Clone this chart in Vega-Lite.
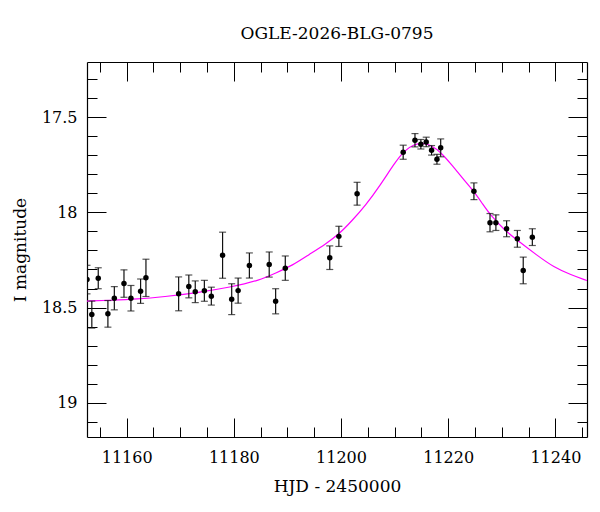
{
  "$schema": "https://vega.github.io/schema/vega-lite/v6.json",
  "width": 500,
  "height": 375,
  "autosize": {"type": "none"},
  "padding": {"left": 87, "top": 62, "right": 13, "bottom": 75},
  "background": "#ffffff",
  "title": {
    "text": "OGLE-2026-BLG-0795",
    "font": "DejaVu Serif",
    "fontSize": 17,
    "fontWeight": "normal",
    "color": "#000000",
    "anchor": "middle",
    "offset": 19
  },
  "datasets": {
    "obs": [
      {"t": 11152.6, "mag": 18.353, "err": 0.075},
      {"t": 11153.5, "mag": 18.537, "err": 0.071},
      {"t": 11154.7, "mag": 18.346, "err": 0.055},
      {"t": 11156.5, "mag": 18.533, "err": 0.07},
      {"t": 11157.7, "mag": 18.451, "err": 0.061},
      {"t": 11159.5, "mag": 18.374, "err": 0.072},
      {"t": 11160.8, "mag": 18.451, "err": 0.067},
      {"t": 11162.6, "mag": 18.414, "err": 0.064},
      {"t": 11163.6, "mag": 18.344, "err": 0.098},
      {"t": 11169.7, "mag": 18.428, "err": 0.089},
      {"t": 11171.6, "mag": 18.389, "err": 0.06},
      {"t": 11172.8, "mag": 18.417, "err": 0.057},
      {"t": 11174.5, "mag": 18.412, "err": 0.055},
      {"t": 11175.8, "mag": 18.44, "err": 0.047},
      {"t": 11177.9, "mag": 18.225, "err": 0.121},
      {"t": 11179.6, "mag": 18.456, "err": 0.081},
      {"t": 11180.8, "mag": 18.411, "err": 0.066},
      {"t": 11182.9, "mag": 18.279, "err": 0.066},
      {"t": 11186.6, "mag": 18.274, "err": 0.066},
      {"t": 11187.8, "mag": 18.467, "err": 0.066},
      {"t": 11189.6, "mag": 18.293, "err": 0.064},
      {"t": 11197.9, "mag": 18.238, "err": 0.062},
      {"t": 11199.6, "mag": 18.126, "err": 0.053},
      {"t": 11203.0, "mag": 17.902, "err": 0.06},
      {"t": 11211.6, "mag": 17.684, "err": 0.037},
      {"t": 11213.8, "mag": 17.621, "err": 0.035},
      {"t": 11214.9, "mag": 17.642, "err": 0.025},
      {"t": 11215.9, "mag": 17.63, "err": 0.025},
      {"t": 11216.9, "mag": 17.674, "err": 0.025},
      {"t": 11217.9, "mag": 17.721, "err": 0.026},
      {"t": 11218.6, "mag": 17.661, "err": 0.047},
      {"t": 11224.8, "mag": 17.889, "err": 0.044},
      {"t": 11227.8, "mag": 18.054, "err": 0.048},
      {"t": 11228.9, "mag": 18.054, "err": 0.041},
      {"t": 11230.9, "mag": 18.086, "err": 0.042},
      {"t": 11232.9, "mag": 18.139, "err": 0.044},
      {"t": 11234.0, "mag": 18.305, "err": 0.07},
      {"t": 11235.7, "mag": 18.13, "err": 0.044}
    ],
    "model": [
      {"t": 11152.6, "mag": 18.466},
      {"t": 11157, "mag": 18.462},
      {"t": 11162, "mag": 18.456},
      {"t": 11167, "mag": 18.443},
      {"t": 11173, "mag": 18.423},
      {"t": 11179.4, "mag": 18.393},
      {"t": 11184.7, "mag": 18.358},
      {"t": 11188, "mag": 18.316},
      {"t": 11190.9, "mag": 18.279},
      {"t": 11194, "mag": 18.222},
      {"t": 11197.2, "mag": 18.165},
      {"t": 11199.7, "mag": 18.112},
      {"t": 11202, "mag": 18.045},
      {"t": 11204.6, "mag": 17.963},
      {"t": 11207.3, "mag": 17.858},
      {"t": 11209.9, "mag": 17.745},
      {"t": 11211.8, "mag": 17.674},
      {"t": 11213.7, "mag": 17.642},
      {"t": 11215.2, "mag": 17.634},
      {"t": 11216.8, "mag": 17.648},
      {"t": 11218.6, "mag": 17.683},
      {"t": 11220.8, "mag": 17.755},
      {"t": 11222.8, "mag": 17.825},
      {"t": 11224.8, "mag": 17.89},
      {"t": 11226.4, "mag": 17.955},
      {"t": 11227.9, "mag": 18.015},
      {"t": 11230.4, "mag": 18.09},
      {"t": 11232.9, "mag": 18.147},
      {"t": 11236.6, "mag": 18.226},
      {"t": 11239.7, "mag": 18.288},
      {"t": 11242.9, "mag": 18.328},
      {"t": 11245.9, "mag": 18.358}
    ]
  },
  "layer": [
    {
      "data": {"name": "model"},
      "mark": {"type": "line", "color": "#ff00ff", "strokeWidth": 1.2, "interpolate": "basis", "clip": true},
      "encoding": {
        "x": {
          "field": "t",
          "type": "quantitative",
          "scale": {"domain": [11152.6, 11245.9], "nice": false, "zero": false},
          "axis": {
            "orient": "bottom",
            "title": "HJD - 2450000",
            "values": [11155, 11160, 11165, 11170, 11175, 11180, 11185, 11190, 11195, 11200, 11205, 11210, 11215, 11220, 11225, 11230, 11235, 11240, 11245],
            "format": "d",
            "labelExpr": "datum.value % 20 === 0 ? datum.label : ''",
            "tickSize": {"condition": {"test": "datum.value % 20 === 0", "value": -19}, "value": -10},
            "labelPadding": 31,
            "titlePadding": 4
          }
        },
        "y": {
          "field": "mag",
          "type": "quantitative",
          "scale": {"domain": [17.21, 19.18], "reverse": true, "nice": false, "zero": false},
          "axis": {
            "orient": "left",
            "title": "I magnitude",
            "values": [17.3, 17.4, 17.5, 17.6, 17.7, 17.8, 17.9, 18, 18.1, 18.2, 18.3, 18.4, 18.5, 18.6, 18.7, 18.8, 18.9, 19, 19.1],
            "format": "~g",
            "labelExpr": "round(datum.value * 10) % 5 === 0 ? datum.label : ''",
            "tickSize": {"condition": {"test": "round(datum.value * 10) % 5 === 0", "value": -19}, "value": -10},
            "labelPadding": 29,
            "titlePadding": 12
          }
        }
      }
    },
    {
      "data": {"name": "obs"},
      "mark": {"type": "errorbar", "color": "#111111", "thickness": 1.2, "ticks": {"size": 7, "thickness": 1.2}, "clip": true},
      "encoding": {
        "x": {"field": "t", "type": "quantitative", "scale": {"domain": [11152.6, 11245.9], "nice": false, "zero": false}, "axis": null},
        "y": {"field": "mag", "type": "quantitative", "scale": {"domain": [17.21, 19.18], "reverse": true, "nice": false, "zero": false}, "axis": null},
        "yError": {"field": "err"}
      }
    },
    {
      "data": {"name": "obs"},
      "mark": {"type": "point", "filled": true, "color": "#000000", "opacity": 1, "size": 30, "clip": true},
      "encoding": {
        "x": {
          "field": "t",
          "type": "quantitative",
          "scale": {"domain": [11152.6, 11245.9], "nice": false, "zero": false},
          "axis": {
            "orient": "top",
            "title": null,
            "labels": false,
            "values": [11155, 11160, 11165, 11170, 11175, 11180, 11185, 11190, 11195, 11200, 11205, 11210, 11215, 11220, 11225, 11230, 11235, 11240, 11245],
            "tickSize": {"condition": {"test": "datum.value % 20 === 0", "value": -19}, "value": -10}
          }
        },
        "y": {
          "field": "mag",
          "type": "quantitative",
          "scale": {"domain": [17.21, 19.18], "reverse": true, "nice": false, "zero": false},
          "axis": {
            "orient": "right",
            "title": null,
            "labels": false,
            "values": [17.3, 17.4, 17.5, 17.6, 17.7, 17.8, 17.9, 18, 18.1, 18.2, 18.3, 18.4, 18.5, 18.6, 18.7, 18.8, 18.9, 19, 19.1],
            "tickSize": {"condition": {"test": "round(datum.value * 10) % 5 === 0", "value": -19}, "value": -10}
          }
        }
      }
    }
  ],
  "resolve": {"axis": {"x": "independent", "y": "independent"}},
  "config": {
    "view": {"stroke": null},
    "axis": {
      "grid": false,
      "domainColor": "#000000",
      "domainWidth": 1.2,
      "tickColor": "#000000",
      "tickWidth": 1,
      "labelFont": "DejaVu Serif",
      "labelFontSize": 16,
      "labelColor": "#000000",
      "labelOverlap": false,
      "labelFlush": false,
      "titleFont": "DejaVu Serif",
      "titleFontSize": 17,
      "titleFontWeight": "normal",
      "titleColor": "#000000"
    }
  }
}
